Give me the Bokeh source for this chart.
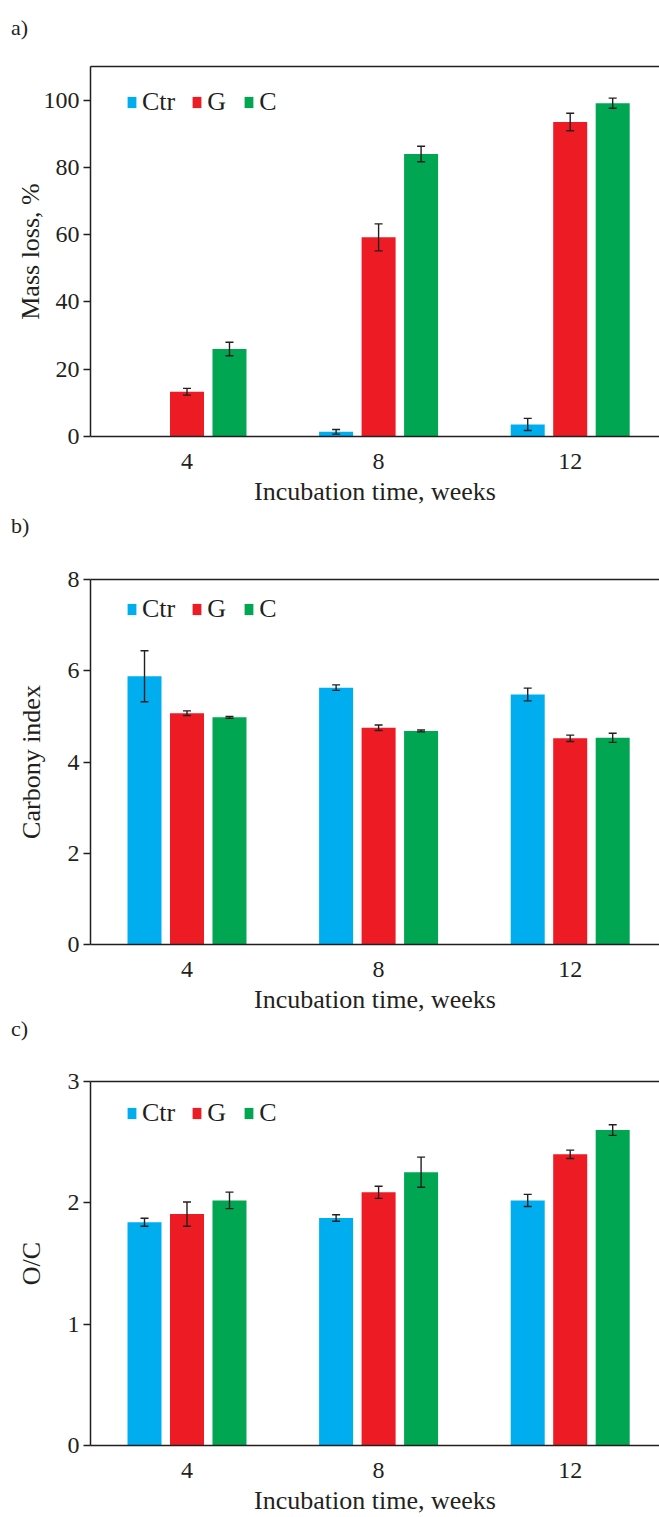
import numpy as np
from bokeh.plotting import figure
from bokeh.models import (ColumnDataSource, Whisker, TeeHead, Legend, LegendItem,
                          Title, LinearAxis, FixedTicker, Range1d, Div)
from bokeh.layouts import column
from bokeh.transform import dodge
from bokeh.embed import file_html
from bokeh.resources import INLINE

# ---------------- data ----------------
weeks = [4, 8, 12]
tick_labels = ["4", "8", "12"]
groups = ["Ctr", "G", "C"]
colors = ["#00aeef", "#ed1c24", "#00a651"]

mass_ctr = [np.nan, 1.4, 3.6]
mass_ctr_err = [np.nan, 0.7, 1.8]
mass_g = [13.3, 59.2, 93.5]
mass_g_err = [1.0, 4.0, 2.6]
mass_c = [26.0, 84.0, 99.1]
mass_c_err = [2.0, 2.3, 1.5]

carb_ctr = [5.88, 5.63, 5.48]
carb_ctr_err = [0.56, 0.06, 0.14]
carb_g = [5.07, 4.75, 4.52]
carb_g_err = [0.05, 0.06, 0.07]
carb_c = [4.98, 4.68, 4.53]
carb_c_err = [0.02, 0.02, 0.10]

oc_ctr = [1.84, 1.875, 2.02]
oc_ctr_err = [0.033, 0.027, 0.05]
oc_g = [1.907, 2.087, 2.40]
oc_g_err = [0.10, 0.05, 0.034]
oc_c = [2.02, 2.253, 2.60]
oc_c_err = [0.068, 0.124, 0.044]

mass_ticks = [0, 20, 40, 60, 80, 100]
carb_ticks = [0, 2, 4, 6, 8]
oc_ticks = [0, 1, 2, 3]

# ---------------- style ----------------
FONT = "Liberation Serif"
INK = "#231f20"
FIG_W = 659
LEFT = 90
PX_PER_WEEK = 47.9
X0 = 4 - (186.5 - 90) / PX_PER_WEEK
X1 = X0 + (FIG_W - LEFT) / PX_PER_WEEK
OFFSETS = [-0.887, 0.0, 0.887]
BAR_W = 0.71


def tag_div(text, h):
    return Div(text=text, width=FIG_W, height=h,
               styles={"font-family": FONT, "font-size": "22px", "color": INK,
                       "line-height": f"{h}px", "padding-left": "11px",
                       "margin": "0", "box-sizing": "border-box"})


def make_panel(ylabel, y_max, y_ticks, series, top, frame_h, bottom, ylabel_standoff):
    height = top + frame_h + bottom
    p = figure(width=FIG_W, height=height, output_backend="svg", toolbar_location=None,
               title=None,
               x_range=Range1d(X0, X1), y_range=Range1d(0, y_max),
               min_border_left=LEFT, min_border_right=0,
               min_border_top=top, min_border_bottom=bottom)
    p.xgrid.visible = False
    p.ygrid.visible = False
    p.outline_line_color = None
    p.background_fill_color = "white"
    p.border_fill_color = "white"

    renderers = []
    for i, (vals, errs) in enumerate(series):
        v = np.array(vals, dtype=float)
        e = np.array(errs, dtype=float)
        src = ColumnDataSource(dict(week=weeks, val=v, upper=v + e, lower=v - e))
        r = p.vbar(x=dodge("week", OFFSETS[i], range=p.x_range), top="val", bottom=0,
                   width=BAR_W, source=src, fill_color=colors[i], line_color=None)
        renderers.append(r)
        w = Whisker(base=dodge("week", OFFSETS[i], range=p.x_range), upper="upper",
                    lower="lower", source=src, line_color=INK, line_width=1.4,
                    level="overlay",
                    upper_head=TeeHead(size=8, line_color=INK, line_width=1.4),
                    lower_head=TeeHead(size=8, line_color=INK, line_width=1.4))
        p.add_layout(w)

    # x axis
    xa = p.xaxis[0]
    xa.ticker = FixedTicker(ticks=weeks)
    xa.major_label_overrides = {w: t for w, t in zip(weeks, tick_labels)}
    xa.major_tick_out = 0
    xa.major_tick_in = 0
    xa.minor_tick_line_color = None
    xa.axis_line_color = INK
    xa.axis_line_width = 1.5
    xa.major_label_standoff = 17
    xa.major_label_text_font = FONT
    xa.major_label_text_font_size = "24px"
    xa.major_label_text_color = INK

    # y axis
    ya = p.yaxis[0]
    ya.ticker = FixedTicker(ticks=y_ticks)
    ya.major_tick_out = 7
    ya.major_tick_in = 0
    ya.minor_tick_line_color = None
    ya.axis_line_color = INK
    ya.axis_line_width = 1.5
    ya.major_tick_line_color = INK
    ya.major_tick_line_width = 1.5
    ya.major_label_standoff = 4
    ya.major_label_text_font = FONT
    ya.major_label_text_font_size = "24px"
    ya.major_label_text_color = INK
    ya.axis_label = ylabel
    ya.axis_label_text_font = FONT
    ya.axis_label_text_font_size = "26px"
    ya.axis_label_text_font_style = "normal"
    ya.axis_label_text_color = INK
    ya.axis_label_standoff = ylabel_standoff

    # top border line
    top_ax = LinearAxis(ticker=FixedTicker(ticks=[]), axis_line_color=INK,
                        axis_line_width=1.5, major_tick_line_color=None,
                        minor_tick_line_color=None)
    p.add_layout(top_ax, "above")

    # x axis title (slightly right of frame centre, as in the original)
    xt = Title(text="Incubation time, weeks", align="center", offset=10, standoff=6,
               text_font=FONT, text_font_size="26px", text_font_style="normal",
               text_color=INK)
    p.add_layout(xt, "below")

    # legend
    legend = Legend(items=[LegendItem(label=g, renderers=[r]) for g, r in zip(groups, renderers)],
                    orientation="horizontal", location=(36, frame_h - 51),
                    glyph_width=11, glyph_height=14, label_standoff=5, spacing=16,
                    padding=0, margin=0, background_fill_alpha=0, border_line_color=None,
                    label_text_font=FONT, label_text_font_size="26px",
                    label_text_color=INK, label_height=14)
    p.add_layout(legend)
    return p


da = tag_div("a)", 56)
pa = make_panel("Mass loss, %", 110, mass_ticks,
                [(mass_ctr, mass_ctr_err), (mass_g, mass_g_err), (mass_c, mass_c_err)],
                top=10, frame_h=370, bottom=74, ylabel_standoff=-4)
db = tag_div("b)", 32)
pb = make_panel("Carbony index", 8, carb_ticks,
                [(carb_ctr, carb_ctr_err), (carb_g, carb_g_err), (carb_c, carb_c_err)],
                top=37, frame_h=371, bottom=66, ylabel_standoff=19)
dc = tag_div("c)", 26)
pc = make_panel("O/C", 3, oc_ticks,
                [(oc_ctr, oc_ctr_err), (oc_g, oc_g_err), (oc_c, oc_c_err)],
                top=39, frame_h=368, bottom=68, ylabel_standoff=19)

layout = column(da, pa, db, pb, dc, pc, spacing=0)
open("out.html", "w").write(file_html(layout, INLINE))
